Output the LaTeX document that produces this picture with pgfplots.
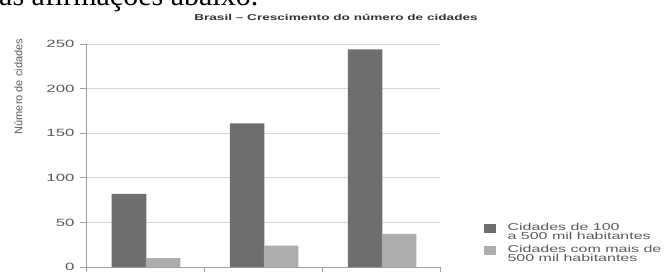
\documentclass[border=0pt]{standalone}
\usepackage{pgfplots}
\pgfplotsset{compat=1.18}
\usepackage{fontspec}
\setmainfont{Liberation Sans}
\newfontfamily\seriffont{Liberation Serif}
\newfontfamily\widefont[FakeStretch=1.6]{Liberation Sans}
\definecolor{darkbar}{HTML}{6E6E6E}
\definecolor{lightbar}{HTML}{ADADAD}
\definecolor{txt}{HTML}{5A5A5A}
\definecolor{axisgray}{HTML}{A0A0A0}
\definecolor{gridgray}{HTML}{D8D8D8}
\begin{document}
\begin{tikzpicture}[x=1pt,y=1pt]
\useasboundingbox (0,0) rectangle (667,271);
\node[anchor=base west, inner sep=0, font=\seriffont\fontsize{30}{30}\selectfont] at (-1,265) {as afirmações abaixo.};
\node[font=\widefont\bfseries\fontsize{8.5}{10}\selectfont, text=black!80] at (336,254) {Brasil – Crescimento do número de cidades};
\begin{axis}[
  at={(86pt,4pt)}, anchor=south west,
  scale only axis, width=354pt, height=223pt,
  xmin=-0.5, xmax=2.5, ymin=0, ymax=250,
  ybar, bar width=34.5pt,
  axis x line*=bottom, axis y line*=left,
  axis line style={axisgray, line width=0.8pt},
  xtick={-0.5,0.5,1.5,2.5}, xticklabels={},
  ytick={0,50,100,150,200,250},
  tick align=outside, major tick length=6pt,
  tick style={axisgray, line width=0.8pt},
  ymajorgrids, grid style={gridgray, line width=0.8pt},
  /pgf/number format/assume math mode=true,
  yticklabel style={font=\widefont\fontsize{10.5}{10.5}\selectfont, text=txt, xshift=-2pt},
  ylabel={Número de cidades},
  ylabel style={at={(axis description cs:-0.191,0.809)}, anchor=center, font=\fontsize{11}{11}\selectfont, text=txt},
  legend style={at={(axis description cs:1.114,0.205)}, anchor=north west, draw=none, fill=none,
    font=\widefont\fontsize{10}{9}\selectfont, text=txt,
    nodes={align=left, inner sep=0pt}, row sep=4pt,
    /tikz/every even column/.append style={column sep=0pt}},
  legend image code/.code={\fill[#1] (0pt,-1pt) rectangle (12pt,8pt);},
  legend cell align=left,
]
\addplot[fill=darkbar, draw=none, bar shift=-16pt] coordinates {(0,82) (1,161) (2,244)};
\addplot[fill=lightbar, draw=none, bar shift=18pt] coordinates {(0,10) (1,24) (2,37)};
\legend{\hspace{12pt}Cidades de 100\\\hspace{12pt}a 500 mil habitantes, \hspace{12pt}Cidades com mais de\\\hspace{12pt}500 mil habitantes}
\end{axis}
\end{tikzpicture}
\end{document}
